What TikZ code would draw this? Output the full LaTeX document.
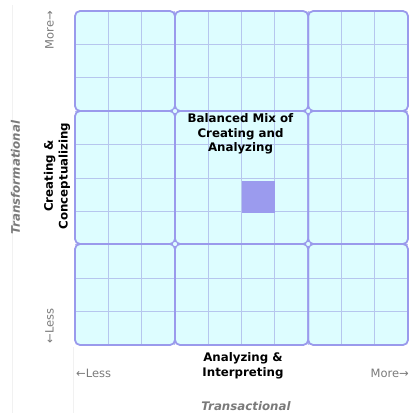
\documentclass[tikz,border=0pt]{standalone}
\usepackage{fontspec}
\setmainfont{DejaVu Sans}
\definecolor{cellfill}{HTML}{DDFDFF}
\definecolor{blockline}{HTML}{9A9AEC}
\definecolor{gridline}{HTML}{B6C6EE}
\definecolor{marker}{HTML}{9B9BEE}
\definecolor{labelgray}{HTML}{7A7A7A}
\definecolor{faint}{HTML}{F1F1F1}
\tikzset{
  block/.style={draw=blockline, line width=1.8pt, rounded corners=5pt},
  blockfill/.style={fill=cellfill, rounded corners=5pt},
  gridl/.style={draw=gridline, line width=0.9pt},
  junction/.style={circle, draw=blockline, fill=cellfill, line width=1pt, minimum size=5.5pt, inner sep=0pt},
  boldlbl/.style={font=\fontsize{11.8}{14.6}\selectfont\bfseries, align=center, text=black, inner sep=0pt},
  graylbl/.style={font=\fontsize{11.5}{14}\selectfont, text=labelgray, inner sep=0pt},
  axislbl/.style={font=\fontsize{11.8}{14}\selectfont\bfseries\itshape, text=labelgray, inner sep=0pt}
}
\begin{document}
\begin{tikzpicture}[x=1pt,y=-1pt]
\useasboundingbox (0,0) rectangle (409,413);
% faint table borders
\draw[faint, line width=0.8pt] (12,5) -- (12,413);
\draw[faint, line width=0.8pt] (73,347) -- (73,413);
% block fills
\foreach \xa/\xb in {75/175,175/308.2,308.2/408}{
  \foreach \ya/\yb in {11/111,111/244,244/345}{
    \fill[blockfill] (\xa,\ya) rectangle (\xb,\yb);
  }
}
% grid lines
\foreach \i in {1,...,9}{
  \draw[gridl] ({75+\i*33.3},11) -- ({75+\i*33.3},345);
  \draw[gridl] (75,{11+\i*33.4}) -- (408,{11+\i*33.4});
}
% marker square
\fill[marker] (242,181) rectangle (274.5,213);
% block borders
\foreach \xa/\xb in {75/175,175/308.2,308.2/408}{
  \foreach \ya/\yb in {11/111,111/244,244/345}{
    \draw[block] (\xa,\ya) rectangle (\xb,\yb);
  }
}
% junctions
\node[junction] (j1) at (175,111) {};
\node[junction] (j2) at (308.2,111) {};
\node[junction] (j3) at (175,244) {};
\node[junction] (j4) at (308.2,244) {};
% labels
\node[boldlbl] (mix) at (240.5,134) {Balanced Mix of\\Creating and\\Analyzing};
\node[boldlbl] (xlab) at (243,365.5) {Analyzing \&\\Interpreting};
\node[boldlbl, rotate=90] (ylab) at (57,176) {Creating \&\\Conceptualizing};
\node[graylbl, anchor=west] (xless) at (76,373.5) {←Less};
\node[graylbl, anchor=east] (xmore) at (409,373.5) {More→};
\node[graylbl, rotate=90] (ymore) at (49.5,30) {More→};
\node[graylbl, rotate=90] (yless) at (49.5,326) {←Less};
\node[axislbl] (xaxis) at (246,406) {Transactional};
\node[axislbl, rotate=90] (yaxis) at (15.5,177.5) {Transformational};
\end{tikzpicture}
\end{document}
